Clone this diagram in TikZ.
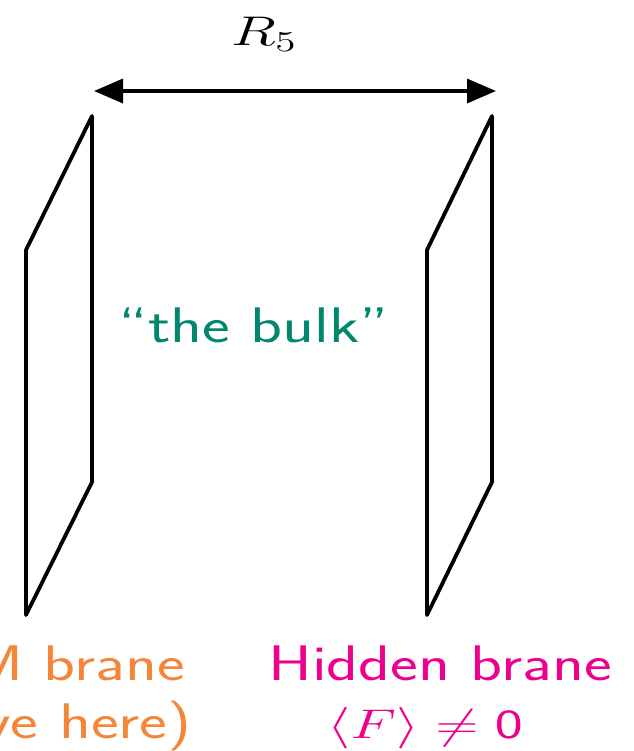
\documentclass[tikz,border=0pt]{standalone}
\usepackage{amsmath,amssymb}
\usetikzlibrary{arrows.meta}
\definecolor{smorange}{RGB}{244,134,58}
\definecolor{hidmag}{RGB}{236,0,140}
\definecolor{bulkgreen}{RGB}{0,135,110}
\newcommand{\widetxt}[1]{\scalebox{1.32}[1]{#1}}
\newcommand{\widemth}[1]{\scalebox{1.43}[1]{#1}}
\begin{document}
\begin{tikzpicture}[x=0.5pt, y=-0.5pt,
        brane/.style={line width=1.9pt, line join=round},
        sepa/.style={{Triangle[length=14.5pt,width=12pt]}-{Triangle[length=14.5pt,width=12pt]}, line width=1.7pt},
        txt/.style={inner sep=0pt, font=\fontsize{25}{30}\selectfont\sffamily},
        mth/.style={inner sep=0pt, font=\fontsize{20.5}{25}\selectfont\sffamily},
    ]
    \useasboundingbox (0,0) rectangle (633,751);
    % the two branes
    \draw[brane] (92,116) coordinate (smtop) -- (92,482) -- (26,615) -- (26,250) -- cycle;
    \draw[brane] (492,116) coordinate (hidtop) -- (492,482) -- (427,615) -- (427,250) -- cycle;
    % distance between them
    \coordinate (arl) at (94,91);
    \coordinate (arr) at (496,91);
    \draw[sepa] (arl) -- (arr);
    \node[mth, anchor=base] (rfive) at (264,45) {\widemth{$R_5$}};
    \node[txt, anchor=base, text=bulkgreen] (bulk) at (254,342) {\widetxt{``the bulk''}};
    % labels
    \node[txt, anchor=base east, text=smorange] (sm) at (185,680) {\widetxt{M brane}};
    \node[txt, anchor=base east, text=smorange] (live) at (192,738) {\widetxt{ve here)}};
    \node[txt, anchor=base, text=hidmag] (hid) at (440,680) {\widetxt{Hidden brane}};
    \node[mth, anchor=base, text=hidmag] (vev) at (425,738) {\widemth{$\langle F\rangle \neq \mathsf{0}$}};
\end{tikzpicture}
\end{document}
